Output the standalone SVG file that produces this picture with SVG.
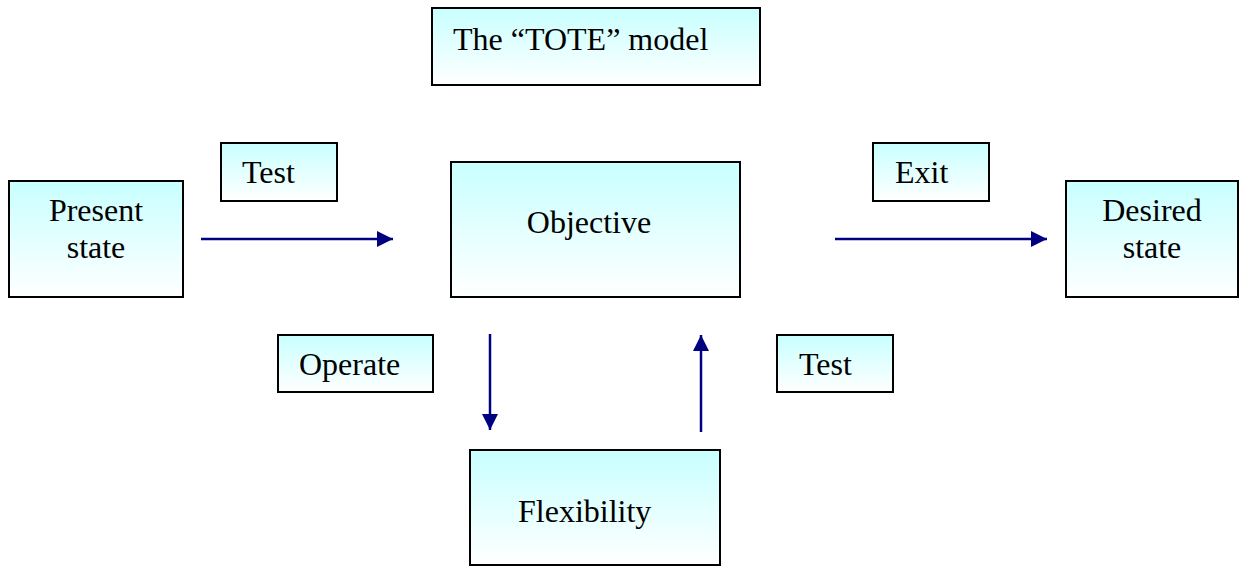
<svg xmlns="http://www.w3.org/2000/svg" width="1239" height="566" viewBox="0 0 1239 566">
  <style>
    .box { fill: url(#cyan); stroke: #000; stroke-width: 2; }
    .lbl { font-family: "Liberation Serif", "Times New Roman", serif; font-size: 32px; fill: #000; }
    .mid { text-anchor: middle; }
    .conn { stroke: #000080; stroke-width: 2.5; fill: none; marker-end: url(#head); }
  </style>
  <defs>
    <linearGradient id="cyan" x1="0" y1="0" x2="0" y2="1">
      <stop offset="0" stop-color="#c8ffff"/>
      <stop offset="1" stop-color="#ffffff"/>
    </linearGradient>
    <marker id="head" markerUnits="userSpaceOnUse" markerWidth="17" markerHeight="16" refX="16" refY="8" orient="auto">
      <path d="M0,0 L16,8 L0,16 Z" fill="#000080"/>
    </marker>
  </defs>

  <g id="title">
    <rect class="box" x="432" y="8" width="328" height="77"/>
    <text class="lbl" x="453" y="50">The “TOTE” model</text>
  </g>

  <g id="present-state">
    <rect class="box" x="9" y="181" width="174" height="116"/>
    <text class="lbl mid" x="96" y="221">Present</text>
    <text class="lbl mid" x="96" y="258">state</text>
  </g>

  <g id="test-top">
    <rect class="box" x="221" y="143" width="116" height="58"/>
    <text class="lbl" x="242" y="183">Test</text>
  </g>

  <g id="objective">
    <rect class="box" x="451" y="162" width="289" height="135"/>
    <text class="lbl mid" x="589" y="233">Objective</text>
  </g>

  <g id="exit">
    <rect class="box" x="873" y="143" width="116" height="58"/>
    <text class="lbl" x="895" y="183">Exit</text>
  </g>

  <g id="desired-state">
    <rect class="box" x="1066" y="181" width="172" height="116"/>
    <text class="lbl mid" x="1152" y="221">Desired</text>
    <text class="lbl mid" x="1152" y="258">state</text>
  </g>

  <g id="operate">
    <rect class="box" x="278" y="335" width="155" height="57"/>
    <text class="lbl" x="299" y="375">Operate</text>
  </g>

  <g id="test-bottom">
    <rect class="box" x="777" y="335" width="116" height="57"/>
    <text class="lbl" x="799" y="375">Test</text>
  </g>

  <g id="flexibility">
    <rect class="box" x="470" y="450" width="250" height="115"/>
    <text class="lbl" x="518" y="522">Flexibility</text>
  </g>

  <g id="connectors">
    <line class="conn" x1="201" y1="239" x2="393" y2="239"/>
    <line class="conn" x1="835" y1="239" x2="1047" y2="239"/>
    <line class="conn" x1="490" y1="334" x2="490" y2="430"/>
    <line class="conn" x1="701" y1="432" x2="701" y2="335"/>
  </g>
</svg>
